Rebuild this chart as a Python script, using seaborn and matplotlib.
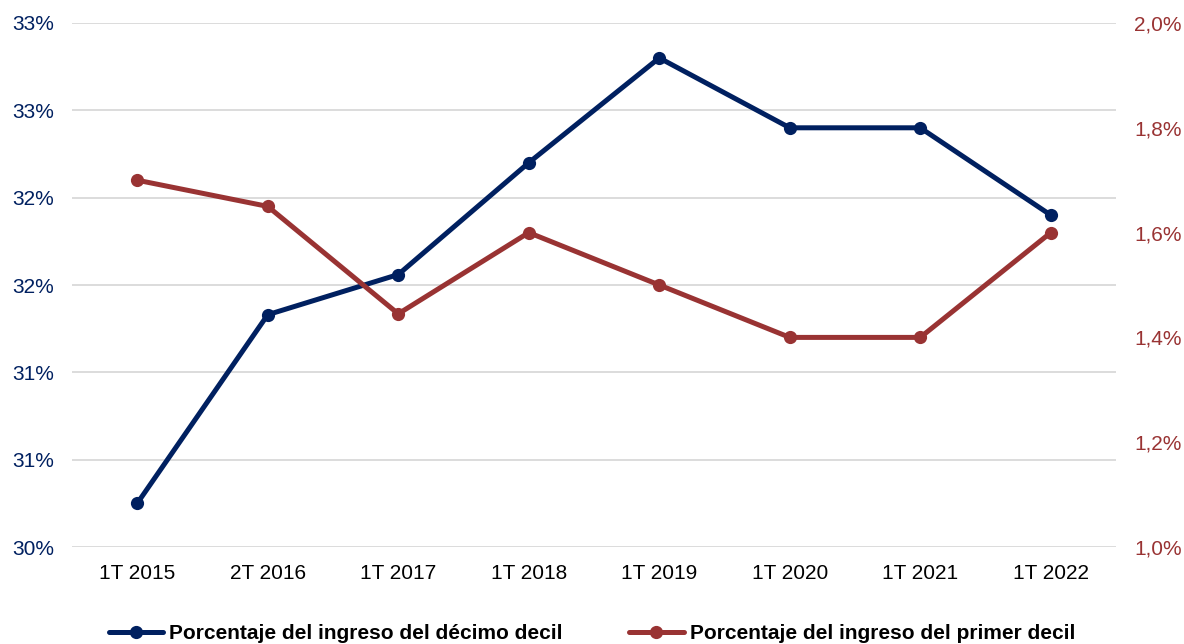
import numpy as np
import pandas as pd
import seaborn as sns
from matplotlib import pyplot as plt
from matplotlib.ticker import FuncFormatter, MultipleLocator

periodos = ["1T 2015", "2T 2016", "1T 2017", "1T 2018", "1T 2019", "1T 2020", "1T 2021", "1T 2022"]
decimo_decil = [30.25, 31.33, 31.56, 32.2, 32.8, 32.4, 32.4, 31.9]
primer_decil = [1.70, 1.65, 1.445, 1.60, 1.50, 1.40, 1.40, 1.60]

azul = "#002060"
rojo = "#993333"

sns.set_theme(style="white")
plt.rcParams["font.family"] = ["Liberation Sans", "DejaVu Sans"]

df = pd.DataFrame({"periodo": periodos, "decimo": decimo_decil, "primero": primer_decil})

fig = plt.figure(figsize=(11.84, 6.44), dpi=100)
ax = fig.add_axes([0.0608, 0.1506, 0.8818, 0.8137])
ax2 = ax.twinx()

sns.lineplot(data=df, x="periodo", y="decimo", ax=ax, color=azul, linewidth=3.6,
             marker="o", markersize=9.5, markeredgewidth=0, sort=False,
             label="Porcentaje del ingreso del décimo decil", legend=False)
sns.lineplot(data=df, x="periodo", y="primero", ax=ax2, color=rojo, linewidth=3.6,
             marker="o", markersize=9.5, markeredgewidth=0, sort=False,
             label="Porcentaje del ingreso del primer decil", legend=False)

ax.set_xlim(-0.5, len(periodos) - 0.5)
ax.set_ylim(30, 33)
ax.yaxis.set_major_locator(MultipleLocator(0.5))
ax.yaxis.set_major_formatter(FuncFormatter(lambda v, p: f"{int(np.floor(v + 0.5))}%"))
ax2.set_ylim(1.0, 2.0)
ax2.yaxis.set_major_locator(MultipleLocator(0.2))
ax2.yaxis.set_major_formatter(FuncFormatter(lambda v, p: f"{v:.1f}%".replace(".", ",")))

ax.grid(axis="y", color="#d9d9d9", linewidth=1.3)
ax.set_axisbelow(True)
for a in (ax, ax2):
    for s in a.spines.values():
        s.set_visible(False)
    a.set_xlabel("")
    a.set_ylabel("")

ax.tick_params(axis="y", colors=azul, labelsize=15, length=0, pad=13)
ax.tick_params(axis="x", colors="black", labelsize=15, length=0, pad=12)
ax2.tick_params(axis="y", colors=rojo, labelsize=15, length=0, pad=13)

h1, l1 = ax.get_legend_handles_labels()
h2, l2 = ax2.get_legend_handles_labels()
leg = fig.legend(h1 + h2, l1 + l2, loc="lower center", bbox_to_anchor=(0.5, -0.028), ncol=2,
                 frameon=False, prop={"weight": "bold", "size": 15}, handlelength=2.6,
                 handletextpad=0.3, columnspacing=3.2)
for t in leg.get_texts():
    t.set_color("black")

fig.savefig("out.png", dpi=100)
